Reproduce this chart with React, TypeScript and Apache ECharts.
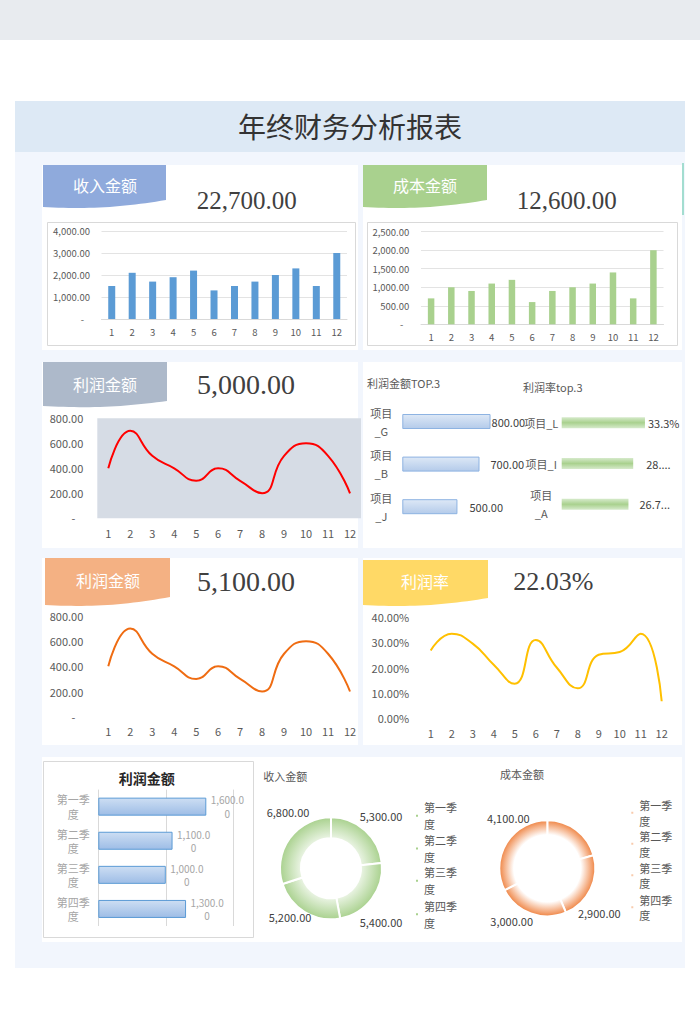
import React, { useEffect, useRef } from "react";
import * as echarts from "echarts";

// ---------- data ----------
const months = ["1", "2", "3", "4", "5", "6", "7", "8", "9", "10", "11", "12"];
const incomeValues = [1500, 2100, 1700, 1900, 2200, 1300, 1500, 1700, 2000, 2300, 1500, 3000];
const costValues = [700, 1000, 900, 1100, 1200, 600, 900, 1000, 1100, 1400, 700, 2000];
const profitValues = [400, 700, 500, 400, 300, 400, 300, 200, 500, 600, 500, 200];
const profitValues2 = [400, 700, 500, 400, 300, 400, 300, 200, 500, 600, 500, 200];
const profitRateValues = [26.7, 33.3, 29.4, 21.1, 13.6, 30.8, 20.0, 11.8, 25.0, 26.1, 33.3, 6.7];
const profitTopNames = ["项目\n_G", "项目\n_B", "项目\n_J"];
const profitTopValues = [800, 700, 500];
const rateTopNames = ["项目_L", "项目_I", "项目\n_A"];
const rateTopValues = [33.3, 28.6, 26.7];
const rateTopLabels = ["33.3%", "28....", "26.7..."];
const quarters = ["第一季度", "第二季度", "第三季度", "第四季度"];
const quarterProfit = [1600, 1100, 1000, 1300];
const quarterIncome = [5300, 5400, 5200, 6800];
const quarterCost = [2600, 2900, 3000, 4100];
const costLabelShown = [false, true, true, true];
const kpiIncome = "22,700.00";
const kpiCost = "12,600.00";
const kpiProfit = "5,000.00";
const kpiProfit2 = "5,100.00";
const kpiRate = "22.03%";

// ---------- layout / style ----------
const SANS = '"Noto Sans CJK SC", "Noto Sans", sans-serif';
const SERIF = '"Liberation Serif", "DejaVu Serif", serif';
const GRAY = "#595959";
const incomePie = { cx: 331, cy: 868.3, r0: 30, r1: 51 };
const costPie = { cx: 547.3, cy: 868.3, r0: 22, r1: 48 };
const incomeLabelOffsets = [[50, -52.6], [50, 53.4], [-41, 48.4], [-43, -56.6]];
const costLabelOffsets = [[45, -50], [52, 45], [-35.6, 52.4], [-39, -50]];
const incomeLegendY = [808.3, 841, 873.3, 906.7];
const costLegendY = [806, 837, 868.5, 900.5];
const profitTopLabelDist = [1, 11, 12];
const rateTopLabelDist = [3, 13, 11];

function fmt2(v: number) {
  return v.toLocaleString("en-US", { minimumFractionDigits: 2, maximumFractionDigits: 2 });
}
function lab(size: number, color = GRAY) {
  return { color, fontSize: size, fontFamily: SANS };
}
function moneyAxis(size: number, margin: number, dashPad: number) {
  return {
    ...lab(size),
    margin,
    formatter: (v: number) => (v === 0 ? "{d|-}" : fmt2(v)),
    rich: { d: { ...lab(size), padding: [0, dashPad, 0, 0] } },
  };
}

function tabPoints(x0: number, y0: number, w: number, hL: number, hR: number) {
  const pts: number[][] = [[x0, y0], [x0 + w, y0]];
  for (let i = 0; i <= 24; i++) {
    const t = 1 - i / 24;
    const y = y0 + hL + 2 * Math.sin(Math.PI * t) - (hL - hR) * t * t;
    pts.push([x0 + w * t, y]);
  }
  return pts;
}

function text(x: number, y: number, t: string, size: number, color: string, family = SANS, align = "center", weight = "normal") {
  return {
    type: "text",
    x,
    y,
    z: 50,
    silent: true,
    style: {
      text: t,
      fill: color,
      fontSize: size,
      fontFamily: family,
      fontWeight: weight,
      align,
      verticalAlign: "middle",
      textAlign: align,
      textVerticalAlign: "middle",
    },
  };
}

function rect(x: number, y: number, w: number, h: number, fill: string, stroke?: string, z = -10) {
  return {
    type: "rect",
    z,
    silent: true,
    shape: { x, y, width: w, height: h },
    style: stroke ? { fill, stroke, lineWidth: 1 } : { fill },
  };
}

function buildOption() {
  const tabs = [
    { x: 43, y: 165, w: 123, hL: 42, hR: 35, color: "#8faadc", t: "收入金额", tx: 105, ty: 185 },
    { x: 363, y: 165, w: 124, hL: 42, hR: 35, color: "#a9d18e", t: "成本金额", tx: 425, ty: 185 },
    { x: 43, y: 362, w: 124, hL: 44, hR: 39, color: "#adb9ca", t: "利润金额", tx: 105, ty: 384 },
    { x: 45, y: 558, w: 125, hL: 47, hR: 39, color: "#f4b183", t: "利润金额", tx: 108, ty: 580 },
    { x: 363, y: 560, w: 125, hL: 45, hR: 38, color: "#ffd966", t: "利润率", tx: 425, ty: 581 },
  ];

  const graphic: any[] = [
    rect(0, 0, 700, 40, "#e8ebef", undefined, -30),
    rect(15, 101, 670, 867, "#f2f6fd", undefined, -30),
    rect(15, 101, 670, 51, "#dde9f5", undefined, -29),
    text(350, 126, "年终财务分析报表", 28, "#333333"),
    // cards
    rect(42, 165, 316, 185, "#ffffff", undefined, -20),
    rect(363, 165, 319, 185, "#ffffff", undefined, -20),
    rect(42, 362, 316, 186, "#ffffff", undefined, -20),
    rect(363, 362, 319, 186, "#ffffff", undefined, -20),
    rect(42, 558, 316, 187, "#ffffff", undefined, -20),
    rect(363, 558, 319, 187, "#ffffff", undefined, -20),
    rect(42, 757, 640, 185, "#ffffff", undefined, -20),
    rect(682, 163, 2, 52, "#a3ddd0", undefined, -19),
    // chart boxes
    rect(47.5, 222.5, 308, 123, "#ffffff", "#d9d9d9", -15),
    rect(367.5, 222.5, 310, 123, "#ffffff", "#d9d9d9", -15),
    rect(43.5, 761.5, 210, 176, "#ffffff", "#d9d9d9", -15),
  ];
  tabs.forEach((tb) => {
    graphic.push({
      type: "polygon",
      z: -5,
      silent: true,
      shape: { points: tabPoints(tb.x, tb.y, tb.w, tb.hL, tb.hR) },
      style: { fill: tb.color },
    });
    graphic.push(text(tb.tx, tb.ty, tb.t, 16, "#ffffff"));
  });
  graphic.push(
    text(246.7, 200, kpiIncome, 25, "#404040", SERIF),
    text(566.7, 200, kpiCost, 25, "#404040", SERIF),
    text(246, 384, kpiProfit, 28, "#404040", SERIF),
    text(246, 581.7, kpiProfit2, 28, "#404040", SERIF),
    text(553.3, 581.7, kpiRate, 26, "#404040", SERIF),
    text(367, 382.7, "利润金额TOP.3", 11, GRAY, SANS, "left"),
    text(523, 386.7, "利润率top.3", 11, GRAY, SANS, "left"),
    text(146.7, 777.7, "利润金额", 14, "#262626", SANS, "center", "bold"),
    text(263.3, 775.7, "收入金额", 11, GRAY, SANS, "left"),
    text(500, 774.3, "成本金额", 11, GRAY, SANS, "left")
  );

  const grid = [
    { left: 101.5, top: 231, width: 245.5, height: 88 },
    { left: 421, top: 231.7, width: 242.5, height: 92.6 },
    { left: 97.3, top: 418.3, width: 263.7, height: 100, show: true, backgroundColor: "#d6dce5", borderWidth: 0 },
    { left: 402.3, top: 400.2, width: 110.3, height: 127.8 },
    { left: 561.7, top: 402.3, width: 100, height: 122.4 },
    { left: 97.3, top: 616, width: 263.7, height: 100.7 },
    { left: 420.2, top: 616.7, width: 252, height: 101.6 },
    { left: 98.3, top: 789.6, width: 135, height: 136.4 },
  ];

  const noLine = { show: false };
  const monthAxis = (gi: number, size: number, margin: number, showLine: boolean) => ({
    gridIndex: gi,
    type: "category",
    data: months,
    axisLine: showLine ? { lineStyle: { color: "#d9d9d9" } } : noLine,
    axisTick: noLine,
    axisLabel: { ...lab(size), margin },
  });

  const xAxis: any[] = [
    monthAxis(0, 9.5, 8, true),
    monthAxis(1, 9.5, 8, true),
    monthAxis(2, 11, 9.5, false),
    { gridIndex: 3, type: "value", min: 0, max: 1000, show: false },
    { gridIndex: 4, type: "value", min: 0, max: 40, show: false },
    monthAxis(5, 11, 9, false),
    monthAxis(6, 11, 9, false),
    {
      gridIndex: 7,
      type: "value",
      min: 0,
      max: 2000,
      interval: 1000,
      axisLabel: noLine,
      axisLine: noLine,
      axisTick: noLine,
      splitLine: { lineStyle: { color: "#d9d9d9" } },
    },
  ];

  const yAxis: any[] = [
    {
      gridIndex: 0, type: "value", min: 0, max: 4000, interval: 1000,
      axisLine: noLine, axisTick: noLine,
      splitLine: { lineStyle: { color: "#e3e3e3" } },
      axisLabel: moneyAxis(9.5, 11.5, 6),
    },
    {
      gridIndex: 1, type: "value", min: 0, max: 2500, interval: 500,
      axisLine: noLine, axisTick: noLine,
      splitLine: { lineStyle: { color: "#e3e3e3" } },
      axisLabel: moneyAxis(9.5, 11.7, 6),
    },
    {
      gridIndex: 2, type: "value", min: 0, max: 800, interval: 200,
      axisLine: noLine, axisTick: noLine, splitLine: noLine,
      axisLabel: moneyAxis(11, 14, 8),
    },
    {
      gridIndex: 3, type: "category", data: profitTopNames, inverse: true,
      axisLine: noLine, axisTick: noLine,
      axisLabel: { ...lab(11), align: "center", margin: 21, lineHeight: 18 },
    },
    {
      gridIndex: 4, type: "category", data: rateTopNames, inverse: true,
      axisLine: noLine, axisTick: noLine,
      axisLabel: { ...lab(11), align: "center", margin: 20.5, lineHeight: 18 },
    },
    {
      gridIndex: 5, type: "value", min: 0, max: 800, interval: 200,
      axisLine: noLine, axisTick: noLine, splitLine: noLine,
      axisLabel: moneyAxis(11, 14, 8),
    },
    {
      gridIndex: 6, type: "value", min: 0, max: 40, interval: 10,
      axisLine: noLine, axisTick: noLine, splitLine: noLine,
      axisLabel: { ...lab(11), margin: 11, formatter: (v: number) => v.toFixed(2) + "%" },
    },
    {
      gridIndex: 7, type: "category", data: quarters, inverse: true,
      axisLine: noLine, axisTick: noLine,
      axisLabel: {
        ...lab(11, "#a6a6a6"), align: "center", margin: 25, lineHeight: 14.5,
        formatter: (n: string) => n.slice(0, 3) + "\n" + n.slice(3),
      },
    },
  ];

  const blueGrad = new echarts.graphic.LinearGradient(0, 0, 0, 1, [
    { offset: 0, color: "#dde8f6" },
    { offset: 1, color: "#b4cbea" },
  ]);
  const greenGlow = new echarts.graphic.LinearGradient(0, 0, 0, 1, [
    { offset: 0, color: "#d6eacb" },
    { offset: 0.5, color: "#a9d18e" },
    { offset: 1, color: "#d6eacb" },
  ]);
  const quarterGrad = new echarts.graphic.LinearGradient(0, 0, 0, 1, [
    { offset: 0, color: "#cddef3" },
    { offset: 1, color: "#9ebde6" },
  ]);
  const incomeGrad = new echarts.graphic.RadialGradient(
    incomePie.cx, incomePie.cy, incomePie.r1,
    [
      { offset: 0, color: "#ffffff" },
      { offset: 0.58, color: "#ecf5e6" },
      { offset: 1, color: "#a9d18e" },
    ],
    true
  );
  const costGrad = new echarts.graphic.RadialGradient(
    costPie.cx, costPie.cy, costPie.r1,
    [
      { offset: 0, color: "#ffffff" },
      { offset: 0.7, color: "#ffffff" },
      { offset: 1, color: "#ef8443" },
    ],
    true
  );

  const lineSeries = (idx: number, data: number[], color: string) => ({
    type: "line",
    xAxisIndex: idx,
    yAxisIndex: idx,
    data,
    smooth: true,
    symbol: "none",
    lineStyle: { color, width: 2 },
  });

  const series: any[] = [
    { type: "bar", xAxisIndex: 0, yAxisIndex: 0, data: incomeValues, barWidth: 7, itemStyle: { color: "#5b9bd5" } },
    { type: "bar", xAxisIndex: 1, yAxisIndex: 1, data: costValues, barWidth: 6.5, itemStyle: { color: "#a9d18e" } },
    lineSeries(2, profitValues, "#ff0000"),
    {
      type: "bar", xAxisIndex: 3, yAxisIndex: 3, barWidth: 15,
      data: profitTopValues.map((v, i) => ({ value: v, label: { distance: profitTopLabelDist[i] } })),
      itemStyle: { color: blueGrad, borderColor: "#8db3e2", borderWidth: 1 },
      label: { show: true, position: "right", formatter: (p: any) => fmt2(p.value), ...lab(11, "#404040") },
    },
    {
      type: "bar", xAxisIndex: 4, yAxisIndex: 4, barWidth: 11,
      data: rateTopValues.map((v, i) => ({ value: v, label: { distance: rateTopLabelDist[i] } })),
      itemStyle: { color: greenGlow },
      label: { show: true, position: "right", formatter: (p: any) => rateTopLabels[p.dataIndex], ...lab(11, "#404040") },
    },
    lineSeries(5, profitValues2, "#ef6c12"),
    lineSeries(6, profitRateValues, "#ffc000"),
    {
      type: "bar", xAxisIndex: 7, yAxisIndex: 7, barWidth: 18, data: quarterProfit,
      itemStyle: { color: quarterGrad, borderColor: "#5b9bd5", borderWidth: 1 },
      label: {
        show: true, position: "right", distance: 21, align: "center",
        ...lab(10, "#a6a6a6"), lineHeight: 13.5,
        formatter: (p: any) => {
          const s = fmt2(p.value);
          return s.slice(0, -1) + "\n" + s.slice(-1);
        },
      },
    },
    {
      type: "pie",
      center: [incomePie.cx, incomePie.cy],
      radius: [incomePie.r0, incomePie.r1],
      startAngle: 90,
      clockwise: true,
      data: quarters.map((q, i) => ({ name: q, value: quarterIncome[i] })),
      itemStyle: { color: incomeGrad, borderColor: "#ffffff", borderWidth: 2 },
      label: { show: true, position: "outside", formatter: (p: any) => fmt2(p.value), ...lab(11, "#404040") },
      labelLine: { show: false },
      labelLayout: (p: any) => ({
        x: incomePie.cx + incomeLabelOffsets[p.dataIndex][0],
        y: incomePie.cy + incomeLabelOffsets[p.dataIndex][1],
        align: "center",
        verticalAlign: "middle",
      }),
    },
    {
      type: "pie",
      center: [costPie.cx, costPie.cy],
      radius: [costPie.r0, costPie.r1],
      startAngle: 90,
      clockwise: true,
      data: quarters.map((q, i) => ({ name: q, value: quarterCost[i], label: { show: costLabelShown[i] } })),
      itemStyle: { color: costGrad, borderColor: "#ffffff", borderWidth: 2 },
      label: { show: true, position: "outside", formatter: (p: any) => fmt2(p.value), ...lab(11, "#404040") },
      labelLine: { show: false },
      labelLayout: (p: any) => ({
        x: costPie.cx + costLabelOffsets[p.dataIndex][0],
        y: costPie.cy + costLabelOffsets[p.dataIndex][1],
        align: "center",
        verticalAlign: "middle",
      }),
    },
  ];

  const legendItem = (name: string, left: number, cy: number, color: string, lh: number) => ({
    orient: "vertical",
    left,
    top: cy - lh - 1,
    padding: 0,
    itemWidth: 4,
    itemHeight: 4,
    icon: "rect",
    selectedMode: false,
    data: [name],
    itemStyle: { color },
    formatter: (n: string) => n.slice(0, 3) + "\n" + n.slice(3),
    textStyle: { ...lab(11), lineHeight: lh, padding: [lh, 0, 0, 0] },
  });
  const legend = [
    ...quarters.map((q, i) => legendItem(q, 414, incomeLegendY[i], "#a9d18e", 17)),
    ...quarters.map((q, i) => legendItem(q, 629.3, costLegendY[i], "#f8cbad", 15.5)),
  ];

  return {
    animation: false,
    backgroundColor: "#ffffff",
    textStyle: { fontFamily: SANS },
    graphic: { elements: graphic },
    grid,
    xAxis,
    yAxis,
    series,
    legend,
  };
}

export default function App() {
  const ref = useRef<HTMLDivElement>(null);
  useEffect(() => {
    const chart = echarts.init(ref.current!, null, { renderer: "svg" });
    chart.setOption(buildOption() as any);
    return () => chart.dispose();
  }, []);
  return <div ref={ref} style={{ position: "absolute", left: 0, top: 0, width: 700, height: 1030 }} />;
}
